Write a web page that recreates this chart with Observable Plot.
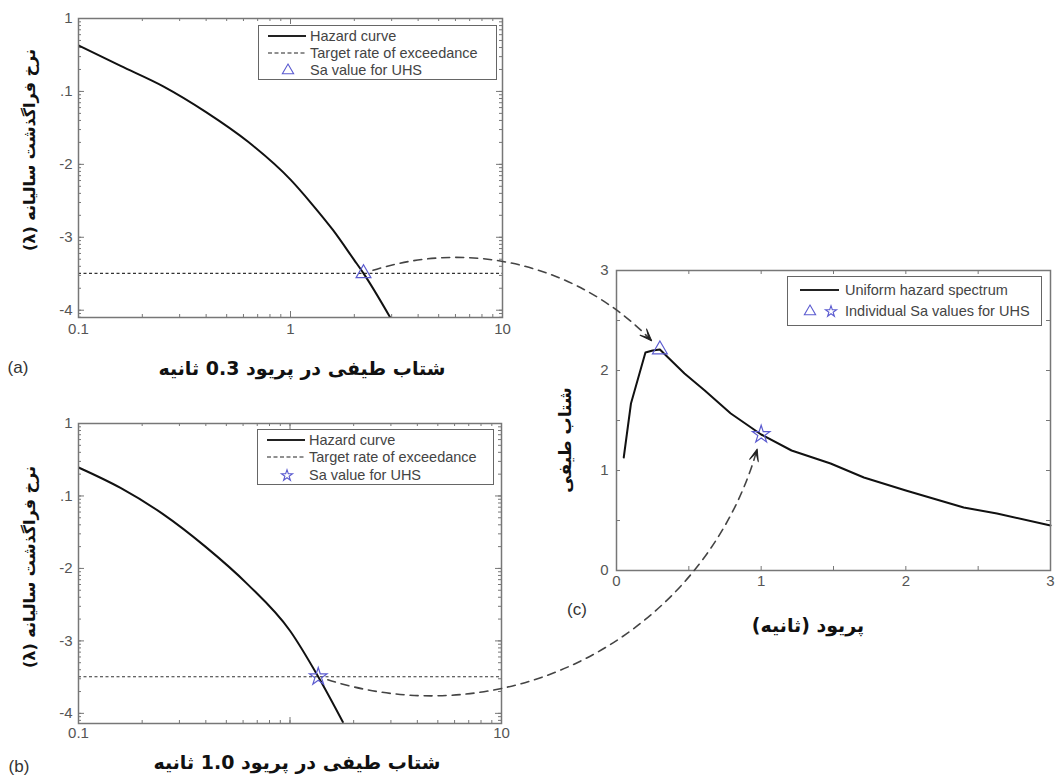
<!DOCTYPE html>
<html><head><meta charset="utf-8">
<script src="https://cdn.jsdelivr.net/npm/d3@7"></script>
<script src="https://cdn.jsdelivr.net/npm/@observablehq/plot@0.6"></script>
<style>
body{margin:0;background:#fff;}
#wrap{position:relative;width:1059px;height:780px;overflow:hidden;}
.abs{position:absolute;white-space:nowrap;}
.fa{font-family:"DejaVu Sans",sans-serif;font-weight:bold;color:#111;direction:rtl;}
.tag{font-family:"Liberation Sans",sans-serif;color:#333;}
.legend{position:absolute;background:#fff;border:1px solid #666;font-family:"Liberation Sans",sans-serif;font-size:14.5px;color:#444;box-sizing:border-box;}
.row{position:absolute;left:0;height:16px;display:flex;align-items:center;white-space:nowrap;}
.row svg{flex:none;}
</style></head><body><div id="wrap"></div>
<script>
// ---------------- data ----------------
// panel (a): hazard curve, Sa at T = 0.3 s
const hazA_sa   = [0.1, 0.158, 0.251, 0.398, 0.631, 1.0, 1.259, 1.585, 1.995, 2.21, 3.02];
const hazA_rate = [0.427, 0.224, 0.1175, 0.0525, 0.0204, 0.00617, 0.00288, 0.00126, 4.9e-4, 3.2e-4, 7.1e-5];
// panel (b): hazard curve, Sa at T = 1.0 s
const hazB_sa   = [0.1, 0.158, 0.251, 0.398, 0.631, 1.0, 1.36, 1.778];
const hazB_rate = [0.247, 0.129, 0.0562, 0.020, 0.00603, 0.00138, 3.2e-4, 7.6e-5];
// target rate of exceedance and UHS values
const targetRate = 3.2e-4;
const uhsPeriods = [0.3, 1.0];
const uhsSa      = [2.21, 1.36];
// panel (c): uniform hazard spectrum
const uhs_period = [0.05, 0.1, 0.2, 0.25, 0.3, 0.47, 0.61, 0.79, 1.0, 1.21, 1.48, 1.71, 2.0, 2.4, 2.63, 3.0];
const uhs_sa     = [1.13, 1.67, 2.18, 2.2, 2.21, 1.97, 1.80, 1.57, 1.36, 1.20, 1.07, 0.93, 0.80, 0.63, 0.57, 0.45];
// tick labels
const hazYTickValues = [1, 0.1, 0.01, 0.001, 0.0001];
const hazYTickLabels = ["1", ".1", "-2", "-3", "-4"];
const hazA_xTickValues = [0.1, 1, 10];
const hazA_xTickLabels = ["0.1", "1", "10"];
const hazB_xTickValues = [0.1, 10];
const hazB_xTickLabels = ["0.1", "10"];
const uhsTickValues = [0, 1, 2, 3];
const uhsTickLabels = ["0", "1", "2", "3"];
// texts
const legendHaz = ["Hazard curve", "Target rate of exceedance", "Sa value for UHS"];
const legendUhs = ["Uniform hazard spectrum", "Individual Sa values for UHS"];
const yTitleHaz = "نرخ فراگذشت سالیانه (λ)";
const xTitleA = "شتاب طیفی در پریود 0.3 ثانیه";
const xTitleB = "شتاب طیفی در پریود 1.0 ثانیه";
const yTitleC = "شتاب طیفی";
const xTitleC = "پریود (ثانیه)";
const panelTags = ["(a)", "(b)", "(c)"];

// ---------------- styling ----------------
const blue = "#5b5bd0";
const frameColor = "#777";
const tickText = "#555";
const tickFont = {fontSize: 15, fontFamily: "Liberation Sans, Arial, sans-serif", fill: tickText};
const wrap = document.getElementById("wrap");

const hazA = hazA_sa.map((s, i) => ({sa: s, rate: hazA_rate[i]}));
const hazB = hazB_sa.map((s, i) => ({sa: s, rate: hazB_rate[i]}));
const uhs = uhs_period.map((p, i) => ({period: p, sa: uhs_sa[i]}));

// minor tick positions
const logMinor = (lo, hi) => { const t = []; for (let e = lo; e <= hi; e++) for (let k = 1; k <= 9; k++) t.push(k * 10 ** e); return t; };
const inDom = (arr, lo, hi) => arr.filter(v => v > lo * 1.0001 && v < hi * 0.9999);

// inward ticks on all four sides of the frame
function innerTicks(xs, ys, fw, fh, len) {
  const o = {stroke: frameColor, strokeWidth: 1};
  return [
    Plot.tickX(xs, {x: d => d, insetTop: fh - len, ...o}),
    Plot.tickX(xs, {x: d => d, insetBottom: fh - len, ...o}),
    Plot.tickY(ys, {y: d => d, insetRight: fw - len, ...o}),
    Plot.tickY(ys, {y: d => d, insetLeft: fw - len, ...o})
  ];
}
// tick labels as text marks (outside the frame)
function tickLabels(xVals, xMap, yVals, yMap, xDy, yDx) {
  return [
    Plot.text(xVals, {x: d => d, text: d => xMap.get(d), frameAnchor: "bottom", dy: xDy, ...tickFont}),
    Plot.text(yVals, {y: d => d, text: d => yMap.get(d), frameAnchor: "left", dx: yDx, textAnchor: "end", ...tickFont})
  ];
}

const baseStyle = "background:transparent;overflow:visible;max-width:none;font-size:15px;";

function hazardPlot({data, saVal, symbol, xVals, xLabs, yLow, width, height, m, xDy}) {
  const xl = new Map(xVals.map((v, i) => [v, xLabs[i]]));
  const yl = new Map(hazYTickValues.map((v, i) => [v, hazYTickLabels[i]]));
  const fw = width - m[0] - m[1], fh = height - m[2] - m[3];
  return Plot.plot({
    width, height,
    marginLeft: m[0], marginRight: m[1], marginTop: m[2], marginBottom: m[3],
    x: {type: "log", domain: [0.1, 10], axis: null},
    y: {type: "log", domain: [yLow, 1], axis: null},
    style: baseStyle,
    marks: [
      ...innerTicks(inDom(logMinor(-1, 0), 0.1, 10), inDom(logMinor(-5, -1), yLow, 1), fw, fh, 3),
      ...innerTicks([1], inDom(hazYTickValues, yLow, 1), fw, fh, 6),
      Plot.ruleY([targetRate], {stroke: "#333", strokeWidth: 1.1, strokeDasharray: "3,2.5"}),
      Plot.line(data, {x: "sa", y: "rate", stroke: "#111", strokeWidth: 2, curve: "monotone-x", clip: true}),
      Plot.dot([{sa: saVal, rate: targetRate}], {x: "sa", y: "rate", symbol, r: 5.5, stroke: blue, strokeWidth: 1.2, fill: "none"}),
      Plot.frame({stroke: frameColor, strokeWidth: 1.5}),
      ...tickLabels(xVals, xl, hazYTickValues, yl, xDy, -6)
    ]
  });
}

const posA = {left: 0, top: 0}, posB = {left: 0, top: 400}, posC = {left: 560, top: 250};

const plotA = hazardPlot({data: hazA, saVal: uhsSa[0], symbol: "triangle", xVals: hazA_xTickValues, xLabs: hazA_xTickLabels, yLow: 10 ** -4.1, width: 540, height: 350, m: [78, 38, 18, 33], xDy: 16});
const plotB = hazardPlot({data: hazB, saVal: uhsSa[1], symbol: "star", xVals: hazB_xTickValues, xLabs: hazB_xTickLabels, yLow: 10 ** -4.14, width: 540, height: 350, m: [78, 39, 23, 27], xDy: 14});

const uhsLab = new Map(uhsTickValues.map((v, i) => [v, uhsTickLabels[i]]));
const cW = 499, cH = 360, cM = [56, 9, 20, 40];
const plotC = Plot.plot({
  width: cW, height: cH,
  marginLeft: cM[0], marginRight: cM[1], marginTop: cM[2], marginBottom: cM[3],
  x: {domain: [0, 3], axis: null},
  y: {domain: [0, 3], axis: null},
  style: baseStyle,
  marks: [
    ...innerTicks(inDom(d3.range(0, 3.01, 0.5), -1, 3), inDom(d3.range(0, 3.01, 0.5), -1, 3), cW - cM[0] - cM[1], cH - cM[2] - cM[3], 4),
    Plot.line(uhs, {x: "period", y: "sa", stroke: "#111", strokeWidth: 2}),
    Plot.dot([{period: uhsPeriods[0], sa: uhsSa[0]}], {x: "period", y: "sa", symbol: "triangle", r: 5.5, stroke: blue, strokeWidth: 1.2, fill: "none"}),
    Plot.dot([{period: uhsPeriods[1], sa: uhsSa[1]}], {x: "period", y: "sa", symbol: "star", r: 5.5, stroke: blue, strokeWidth: 1.2, fill: "none"}),
    Plot.frame({stroke: frameColor, strokeWidth: 1.5}),
    ...tickLabels(uhsTickValues, uhsLab, uhsTickValues, uhsLab, 15, -8)
  ]
});

// make sure the tick-label size is applied on every text element
[plotA, plotB, plotC].forEach(p => p.querySelectorAll("text").forEach(t => {
  t.setAttribute("font-size", "15");
  t.style.setProperty("font-size", "15px", "important");
  t.style.setProperty("font-family", "'Liberation Sans', Arial, sans-serif", "important");
}));

function put(el, pos) { el.style.position = "absolute"; el.style.left = pos.left + "px"; el.style.top = pos.top + "px"; wrap.appendChild(el); }
put(plotA, posA); put(plotB, posB); put(plotC, posC);

// ---------------- legends ----------------
function symbolPath(type, size) { return d3.symbol(type === "star" ? d3.symbolStar : d3.symbolTriangle, size)(); }
function legendBox(box, rows) {
  const d = document.createElement("div");
  d.className = "legend";
  Object.assign(d.style, {left: box.left + "px", top: box.top + "px", width: box.width + "px", height: box.height + "px"});
  rows.forEach(r => {
    const row = document.createElement("div");
    row.className = "row";
    row.style.top = (r.cy - 8) + "px";
    row.style.left = r.x0 + "px";
    let g = "";
    if (r.kind === "line") g = `<line x1="0" x2="${r.sw}" y1="8" y2="8" stroke="#222" stroke-width="2.2"/>`;
    if (r.kind === "dash") g = `<line x1="0" x2="${r.sw}" y1="8" y2="8" stroke="#222" stroke-width="1.2" stroke-dasharray="4,2.5"/>`;
    if (r.kind === "sym") r.syms.forEach(s => { g += `<path transform="translate(${s.x},8.5)" d="${symbolPath(s.t, s.t === "star" ? 38 : 55)}" fill="none" stroke="${blue}" stroke-width="1.1"/>`; });
    row.innerHTML = `<svg width="${r.sw + r.gap}" height="16">${g}</svg><span>${r.text}</span>`;
    d.appendChild(row);
  });
  wrap.appendChild(d);
}
legendBox({left: 258, top: 25, width: 239, height: 55}, [
  {kind: "line", cy: 10, x0: 9, sw: 38, gap: 4, text: legendHaz[0]},
  {kind: "dash", cy: 27, x0: 9, sw: 38, gap: 4, text: legendHaz[1]},
  {kind: "sym", cy: 44, x0: 9, sw: 38, gap: 4, syms: [{t: "triangle", x: 20}], text: legendHaz[2]}
]);
legendBox({left: 257, top: 429, width: 237, height: 56}, [
  {kind: "line", cy: 10, x0: 9, sw: 38, gap: 4, text: legendHaz[0]},
  {kind: "dash", cy: 27, x0: 9, sw: 38, gap: 4, text: legendHaz[1]},
  {kind: "sym", cy: 45, x0: 9, sw: 38, gap: 4, syms: [{t: "star", x: 20}], text: legendHaz[2]}
]);
legendBox({left: 787, top: 276, width: 255, height: 50}, [
  {kind: "line", cy: 13, x0: 12, sw: 39, gap: 6, text: legendUhs[0]},
  {kind: "sym", cy: 34, x0: 12, sw: 39, gap: 6, syms: [{t: "triangle", x: 10}, {t: "star", x: 31}], text: legendUhs[1]}
]);

// ---------------- titles ----------------
function label(text, cls, cx, cy, size, rot) {
  const d = document.createElement("div");
  d.className = "abs " + cls;
  d.textContent = text;
  d.style.fontSize = size + "px";
  d.style.left = cx + "px"; d.style.top = cy + "px";
  d.style.transform = "translate(-50%,-50%)" + (rot ? " rotate(-90deg)" : "");
  wrap.appendChild(d);
}
label(yTitleHaz, "fa", 29, 150, 16, true);
label(xTitleA, "fa", 302, 368, 19, false);
label(panelTags[0], "tag", 18, 368, 17, false);
label(yTitleHaz, "fa", 29, 567, 16, true);
label(xTitleB, "fa", 297, 762, 19, false);
label(panelTags[1], "tag", 19, 767, 17, false);
label(yTitleC, "fa", 565, 440, 17, true);
label(xTitleC, "fa", 808, 625, 19, false);
label(panelTags[2], "tag", 577, 610, 17, false);

// ---------------- connectors (overlay) ----------------
function pagePt(plot, pos, xv, yv) { return [pos.left + plot.scale("x").apply(xv), pos.top + plot.scale("y").apply(yv)]; }
function connector(P, Q, bendDeg, gapStart, gapEnd) {
  const b = bendDeg * Math.PI / 180;
  const ch = Math.atan2(Q[1] - P[1], Q[0] - P[0]);
  const S = [P[0] + gapStart * Math.cos(ch - b), P[1] + gapStart * Math.sin(ch - b)];
  const E = [Q[0] - gapEnd * Math.cos(ch + b), Q[1] - gapEnd * Math.sin(ch + b)];
  const te = Math.atan2(E[1] - S[1], E[0] - S[0]) + b;
  return {x1: S[0], y1: S[1], x2: E[0], y2: E[1], rot: te * 180 / Math.PI + 90};
}
const bend1 = 32, bend2 = -46;
const c1 = connector(pagePt(plotA, posA, uhsSa[0], targetRate), pagePt(plotC, posC, uhsPeriods[0], uhsSa[0]), bend1, 10, 12);
const c2 = connector(pagePt(plotB, posB, uhsSa[1], targetRate), pagePt(plotC, posC, uhsPeriods[1], uhsSa[1]), bend2, 10, 15);
const headShape = {draw(ctx, l, r) { ctx.moveTo(0, -l); ctx.lineTo(-r, 0); ctx.lineTo(0, -l * 0.65); ctx.lineTo(r, 0); ctx.closePath(); }};
const dashStyle = {stroke: "#444", strokeWidth: 1.6, strokeDasharray: "8,6", headLength: 0};
const overlay = Plot.plot({
  width: 1059, height: 780, margin: 0,
  x: {type: "identity", axis: null}, y: {type: "identity", axis: null},
  style: "background:transparent;overflow:visible;max-width:none;pointer-events:none;",
  marks: [
    Plot.arrow([c1], {x1: "x1", y1: "y1", x2: "x2", y2: "y2", bend: bend1, ...dashStyle}),
    Plot.arrow([c2], {x1: "x1", y1: "y1", x2: "x2", y2: "y2", bend: bend2, ...dashStyle}),
    Plot.vector([c1, c2], {x: "x2", y: "y2", rotate: "rot", length: 12, r: 4.5, anchor: "end", shape: headShape, fill: "#222", stroke: "#222", strokeWidth: 1})
  ]
});
put(overlay, {left: 0, top: 0});
</script></body></html>
